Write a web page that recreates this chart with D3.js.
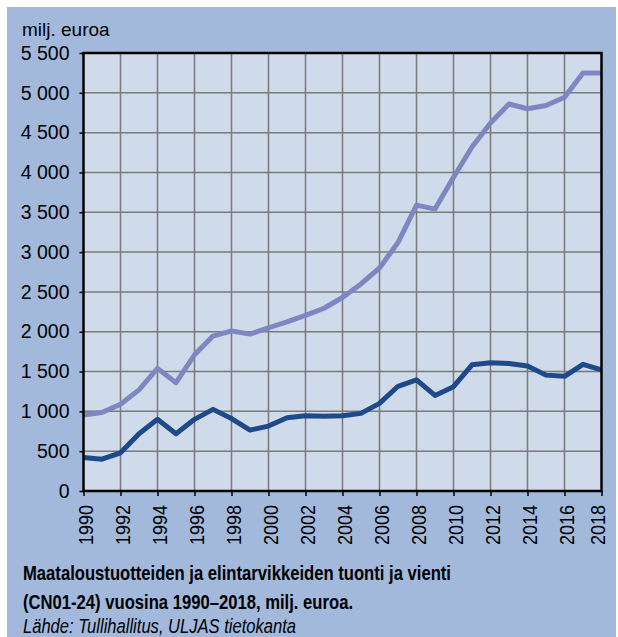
<!DOCTYPE html>
<html>
<head>
<meta charset="utf-8">
<script src="https://cdn.jsdelivr.net/npm/d3@7"></script>
<style>
  html, body { margin: 0; padding: 0; background: #ffffff; }
  svg { display: block; }
</style>
</head>
<body>
<svg id="chart" width="618" height="637"></svg>
<script>
// ---- data ----
const years = [1990,1991,1992,1993,1994,1995,1996,1997,1998,1999,2000,2001,2002,2003,2004,2005,2006,2007,2008,2009,2010,2011,2012,2013,2014,2015,2016,2017,2018];
// Tuonti (import), light line
const tuonti = [955,985,1090,1270,1540,1360,1710,1945,2010,1970,2050,2125,2205,2295,2430,2600,2800,3120,3590,3540,3940,4320,4620,4860,4800,4840,4945,5250,5250];
// Vienti (export), dark line
const vienti = [420,400,480,720,900,720,900,1025,910,765,815,920,945,940,945,975,1100,1315,1395,1200,1310,1585,1610,1600,1570,1455,1440,1590,1520];
const yTicks = [0,500,1000,1500,2000,2500,3000,3500,4000,4500,5000,5500];
const xTicks = [1990,1992,1994,1996,1998,2000,2002,2004,2006,2008,2010,2012,2014,2016,2018];
const unitLabel = "milj. euroa";
const titleLines = ["Maataloustuotteiden ja elintarvikkeiden tuonti ja vienti", "(CN01-24) vuosina 1990\u20132018, milj. euroa."];
const sourceLine = "L\u00e4hde: Tullihallitus, ULJAS tietokanta";

// ---- layout ----
const FONT = "'Liberation Sans', Arial, sans-serif";
const svg = d3.select("#chart");
const L = 83.5, R = 601.5, T = 53, B = 491;
const x = d3.scaleLinear().domain([1990, 2018]).range([L, R]);
const y = d3.scaleLinear().domain([0, 5500]).range([B, T]);
const fmt = v => d3.format(",")(v).replace(/,/g, " ");

// outer background
svg.append("rect").attr("x", 7).attr("y", 7).attr("width", 609).attr("height", 640).attr("fill", "#a2b9dc");
// plot background
svg.append("rect").attr("x", L).attr("y", T).attr("width", R - L).attr("height", B - T).attr("fill", "#cfdaea");

// grid
const grid = svg.append("g").attr("stroke", "#7a7a7a").attr("stroke-width", 1.5);
grid.selectAll("line.v").data(xTicks.slice(1, -1)).enter().append("line")
  .attr("x1", d => x(d)).attr("x2", d => x(d)).attr("y1", T).attr("y2", B);
grid.selectAll("line.h").data(yTicks.slice(1, -1)).enter().append("line")
  .attr("y1", d => y(d)).attr("y2", d => y(d)).attr("x1", L).attr("x2", R);

// axes via d3
const yAxis = d3.axisLeft(y).tickValues(yTicks).tickSize(4).tickPadding(10).tickFormat(fmt);
const gy = svg.append("g").attr("transform", `translate(${L},0)`).call(yAxis);
gy.select(".domain").remove();
gy.selectAll(".tick line").attr("stroke", "#000").attr("stroke-width", 1.5);
gy.selectAll(".tick text").attr("font-size", 19.5).attr("font-family", FONT).attr("fill", "#000");

const xAxis = d3.axisBottom(x).tickValues(xTicks).tickSize(5).tickFormat(d3.format("d"));
const gx = svg.append("g").attr("transform", `translate(0,${B})`).call(xAxis);
gx.select(".domain").remove();
gx.selectAll(".tick line").attr("stroke", "#000").attr("stroke-width", 1.5);
gx.selectAll(".tick text")
  .attr("font-size", 21).attr("font-family", FONT).attr("fill", "#000")
  .attr("textLength", 40).attr("lengthAdjust", "spacingAndGlyphs")
  .attr("text-anchor", "end").attr("y", 0).attr("dy", 0)
  .attr("transform", d => `translate(${Math.min(x(d) + 9, 604) - x(d)},14) rotate(-90)`);

// lines
const line = d3.line().x((d, i) => x(years[i])).y(d => y(d)).curve(d3.curveLinear);
svg.append("path").datum(tuonti).attr("d", line)
  .attr("fill", "none").attr("stroke", "#7e87c1").attr("stroke-width", 5).attr("stroke-linejoin", "round");
svg.append("path").datum(vienti).attr("d", line)
  .attr("fill", "none").attr("stroke", "#1e4a8a").attr("stroke-width", 5).attr("stroke-linejoin", "round");

// frame
svg.append("rect").attr("x", L).attr("y", T).attr("width", R - L).attr("height", B - T)
  .attr("fill", "none").attr("stroke", "#000").attr("stroke-width", 2.5);

// unit label
svg.append("text").attr("x", 22).attr("y", 36).attr("font-size", 19).attr("font-family", FONT).text(unitLabel);

// title
svg.append("text").attr("x", 23).attr("y", 580).attr("font-size", 21).attr("font-weight", "bold")
  .attr("font-family", FONT).attr("textLength", 428).attr("lengthAdjust", "spacingAndGlyphs").text(titleLines[0]);
svg.append("text").attr("x", 23).attr("y", 609).attr("font-size", 21).attr("font-weight", "bold")
  .attr("font-family", FONT).attr("textLength", 330).attr("lengthAdjust", "spacingAndGlyphs").text(titleLines[1]);
svg.append("text").attr("x", 23).attr("y", 633).attr("font-size", 20).attr("font-style", "italic")
  .attr("font-family", FONT).attr("textLength", 273).attr("lengthAdjust", "spacingAndGlyphs").text(sourceLine);
</script>
</body>
</html>
